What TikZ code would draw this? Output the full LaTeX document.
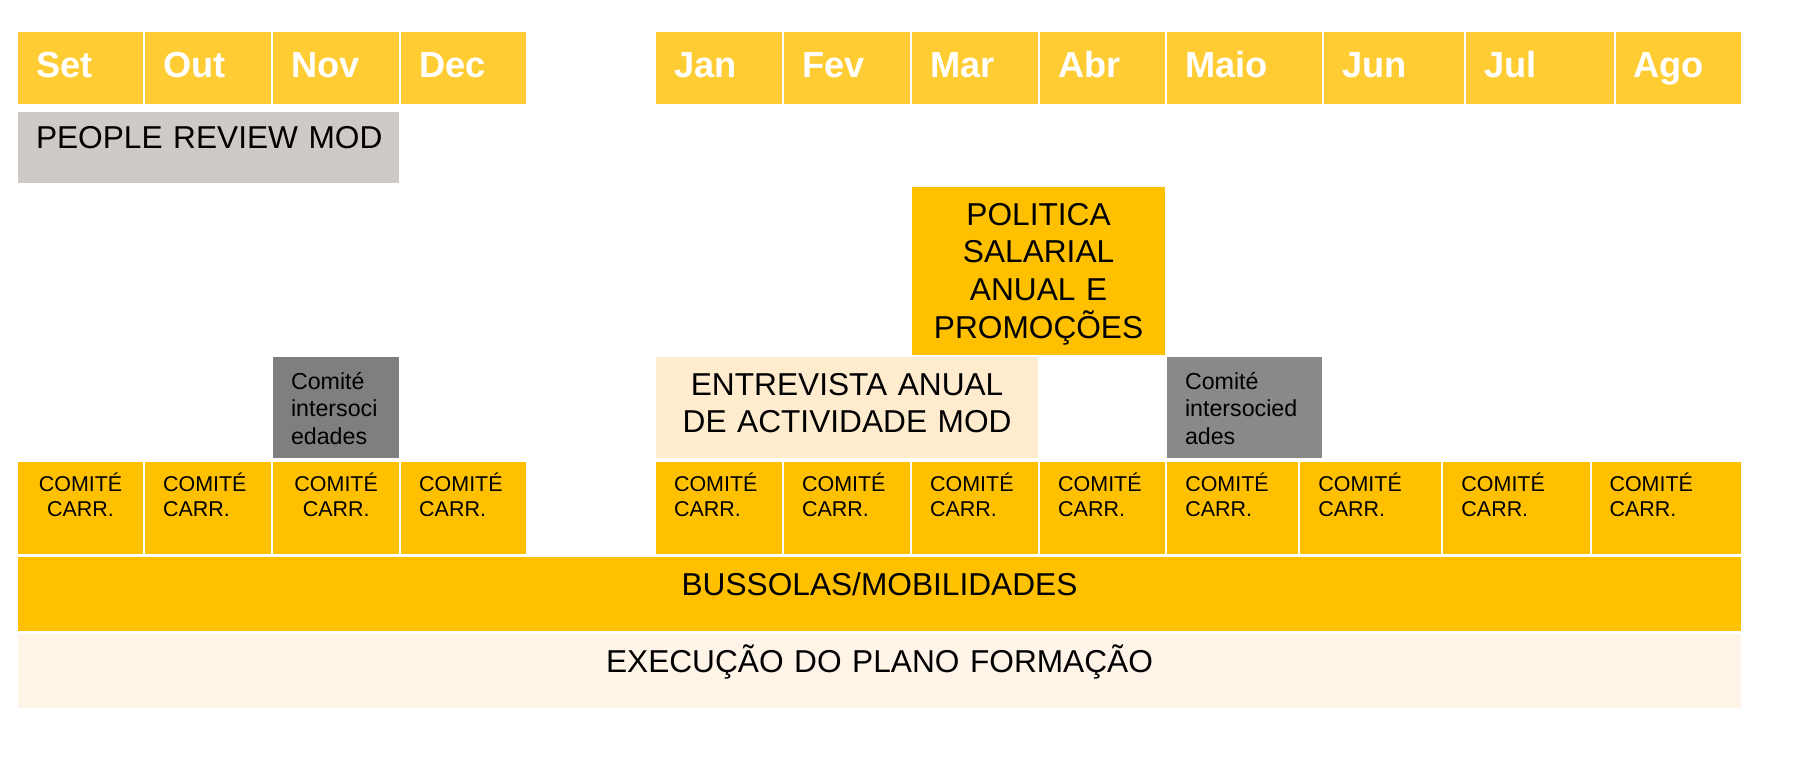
\documentclass[tikz,border=0pt]{standalone}
\usepackage{fontspec}
\setmainfont{Liberation Sans}
\usetikzlibrary{positioning}
\definecolor{calHead}{HTML}{FFCC33}
\definecolor{calGold}{HTML}{FFC000}
\definecolor{calStone}{HTML}{D0CAC6}
\definecolor{calSlate}{HTML}{7F7F7F}
\definecolor{calAsh}{HTML}{898989}
\definecolor{calCream}{HTML}{FFEBCD}
\definecolor{calShell}{HTML}{FEF4E8}

\begin{document}
\begin{tikzpicture}[x=0.01cm, y=-0.01cm,
      node distance=0.02cm,
      cell/.style={rectangle, inner xsep=0.18cm, inner ysep=0pt, outer sep=0pt,
        anchor=north west, align=left, text=black, text width=#1},
      month/.style={cell=#1, fill=calHead, text=white,
        font=\fontsize{10.3}{12}\selectfont\bfseries, text height=0.45cm, text depth=0.27cm},
      carr/.style={cell=#1, fill=calGold, font=\fontsize{6.1}{7.2}\selectfont,
        text height=0.29cm, text depth=0.63cm},
      inter/.style={cell=#1, font=\fontsize{6.6}{7.9}\selectfont,
        text height=0.32cm, text depth=0.69cm},
      big/.style={font=\fontsize{9}{10.8}\selectfont},
      band/.style={cell=17.02cm, inner xsep=0.1cm, align=center, big,
        text height=0.38cm, text depth=0.36cm}]
    \useasboundingbox (0,0) rectangle (1796,780);

    % months
    \node[month=0.89cm] (set) at (18,32) {Set};
    \node[month=0.90cm, right=of set] (out) {Out};
    \node[month=0.90cm, right=of out] (nov) {Nov};
    \node[month=0.89cm, right=of nov] (dec) {Dec};
    \node[month=0.90cm] (jan) at (656,32) {Jan};
    \node[month=0.90cm, right=of jan] (fev) {Fev};
    \node[month=0.90cm, right=of fev] (mar) {Mar};
    \node[month=0.89cm, right=of mar] (abr) {Abr};
    \node[month=1.19cm, right=of abr] (maio) {Maio};
    \node[month=1.04cm, right=of maio] (jun) {Jun};
    \node[month=1.11cm, right=of jun] (jul) {Jul};
    \node[month=0.89cm, right=of jul] (ago) {Ago};

    \node[cell=3.45cm, fill=calStone, big, text height=0.36cm, text depth=0.35cm]
      (review) at (18,112) {\mbox{PEOPLE REVIEW MOD}};
    \node[cell=2.33cm, inner xsep=0.1cm, align=center, fill=calGold, big,
      text height=0.38cm, text depth=1.30cm]
      (politica) at (912,187) {POLITICA\\SALARIAL\\ANUAL E\\PROMOÇÕES};

    \node[inter=0.90cm, fill=calSlate] (internov) at (273,357) {Comité\\intersoci\\edades};
    \node[cell=3.62cm, inner xsep=0.1cm, align=center, fill=calCream, big,
      text height=0.38cm, text depth=0.63cm]
      (entrevista) at (656,357) {ENTREVISTA ANUAL\\DE ACTIVIDADE MOD};
    \node[inter=1.19cm, fill=calAsh] (intermaio) at (1167,357) {Comité\\intersocied\\ades};

    % comites de carreira
    \node[carr=0.89cm, align=center] (cset) at (18,462) {COMITÉ\\CARR.};
    \node[carr=0.90cm, right=of cset] (cout) {COMITÉ\\CARR.};
    \node[carr=0.90cm, align=center, right=of cout] (cnov) {COMITÉ\\CARR.};
    \node[carr=0.89cm, right=of cnov] (cdec) {COMITÉ\\CARR.};
    \node[carr=0.90cm] (cjan) at (656,462) {COMITÉ\\CARR.};
    \node[carr=0.90cm, right=of cjan] (cfev) {COMITÉ\\CARR.};
    \node[carr=0.90cm, right=of cfev] (cmar) {COMITÉ\\CARR.};
    \node[carr=0.89cm, right=of cmar] (cabr) {COMITÉ\\CARR.};
    \node[carr=0.95cm, right=of cabr] (cmaio) {COMITÉ\\CARR.};
    \node[carr=1.05cm, right=of cmaio] (cjun) {COMITÉ\\CARR.};
    \node[carr=1.10cm, right=of cjun] (cjul) {COMITÉ\\CARR.};
    \node[carr=1.13cm, right=of cjul] (cago) {COMITÉ\\CARR.};

    \node[band, fill=calGold] (bussolas) at (18,557) {BUSSOLAS/MOBILIDADES};
    \node[band, fill=calShell] (formacao) at (18,634) {EXECUÇÃO DO PLANO FORMAÇÃO};
  \end{tikzpicture}
\end{document}
